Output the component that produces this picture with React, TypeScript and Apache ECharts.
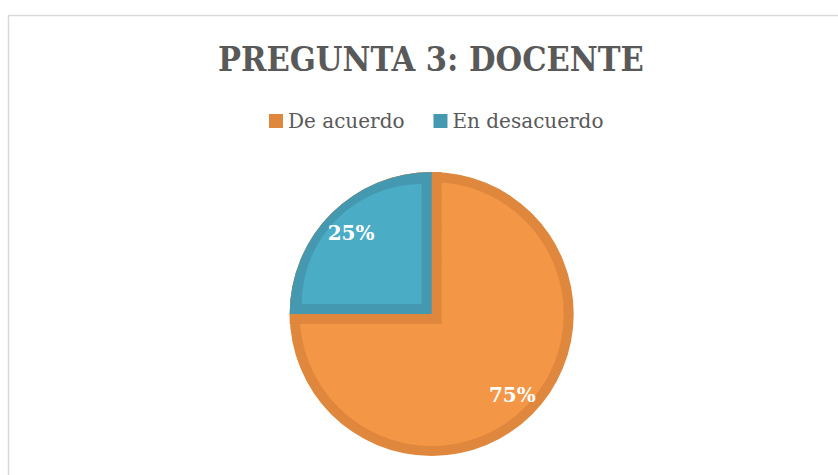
import React, { useEffect, useRef } from "react";
import * as echarts from "echarts";

const titleText = "PREGUNTA 3: DOCENTE";
const categories = ["De acuerdo", "En desacuerdo"];
const values = [75, 25];
const lightColors = ["#F39646", "#4BACC6"];
const darkColors = ["#E0873E", "#4499B1"];

const CX = 431.7;
const CY = 314;
const R = 142;
const BAND = 10;
const T = "rgba(0,0,0,0)";

function layer(name: string, center: number[], radius: any, styles: any[], extra: any = {}) {
  return {
    type: "pie",
    name,
    center,
    radius,
    startAngle: 90,
    clockwise: true,
    silent: true,
    avoidLabelOverlap: false,
    label: { show: false },
    labelLine: { show: false },
    emphasis: { disabled: true },
    data: categories.map((c, i) => ({ name: c, value: values[i], itemStyle: styles[i] })),
    ...extra,
  };
}

export default function App() {
  const ref = useRef<HTMLDivElement>(null);
  useEffect(() => {
    const chart = echarts.init(ref.current!, null, { renderer: "svg" });
    const none = { color: T, borderWidth: 0 };
    chart.setOption({
      animation: false,
      backgroundColor: "#ffffff",
      title: {
        text: titleText,
        left: 213,
        top: 37,
        textStyle: {
          fontFamily: "'DejaVu Serif Condensed', 'DejaVu Serif', serif",
          fontWeight: "bold",
          fontSize: 34,
          color: "#595959",
        },
      },
      legend: {
        top: 106,
        left: 264,
        icon: "rect",
        itemWidth: 14,
        itemHeight: 14,
        itemGap: 29,
        selectedMode: false,
        textStyle: { fontFamily: "'DejaVu Serif', serif", fontSize: 20, color: "#595959" },
        data: categories.map((c, i) => ({ name: c, itemStyle: { color: darkColors[i] } })),
      },
      graphic: [
        {
          type: "rect",
          shape: { x: 8.5, y: 15.5, width: 900, height: 600 },
          style: { fill: "none", stroke: "#d9d9d9", lineWidth: 1.5 },
          silent: true,
        },
      ],
      series: [
        layer("l1", [CX, CY], R, [{ color: darkColors[0] }, { color: darkColors[0] }]),
        layer("l2", [CX, CY], R - BAND, [{ color: lightColors[0] }, { color: lightColors[0] }]),
        layer("l3", [CX, CY], R - BAND, [
          none,
          { color: darkColors[0], borderColor: darkColors[0], borderWidth: BAND * 2, borderJoin: "miter" },
        ]),
        layer("l4", [CX, CY], R, [none, { color: darkColors[1] }]),
        layer("l5", [CX - BAND, CY - BAND], R - 2 * BAND - 2, [none, { color: lightColors[1] }]),
        layer("labels", [CX, CY], [80, R], [none, none], {
          label: {
            show: true,
            position: "inside",
            formatter: "{d}%",
            color: "#ffffff",
            fontFamily: "'DejaVu Serif', serif",
            fontWeight: "bold",
            fontSize: 20,
          },
        }),
      ],
    });
    return () => chart.dispose();
  }, []);
  return (
    <div
      ref={ref}
      style={{ position: "absolute", left: 0, top: 0, width: 838, height: 475 }}
    />
  );
}
